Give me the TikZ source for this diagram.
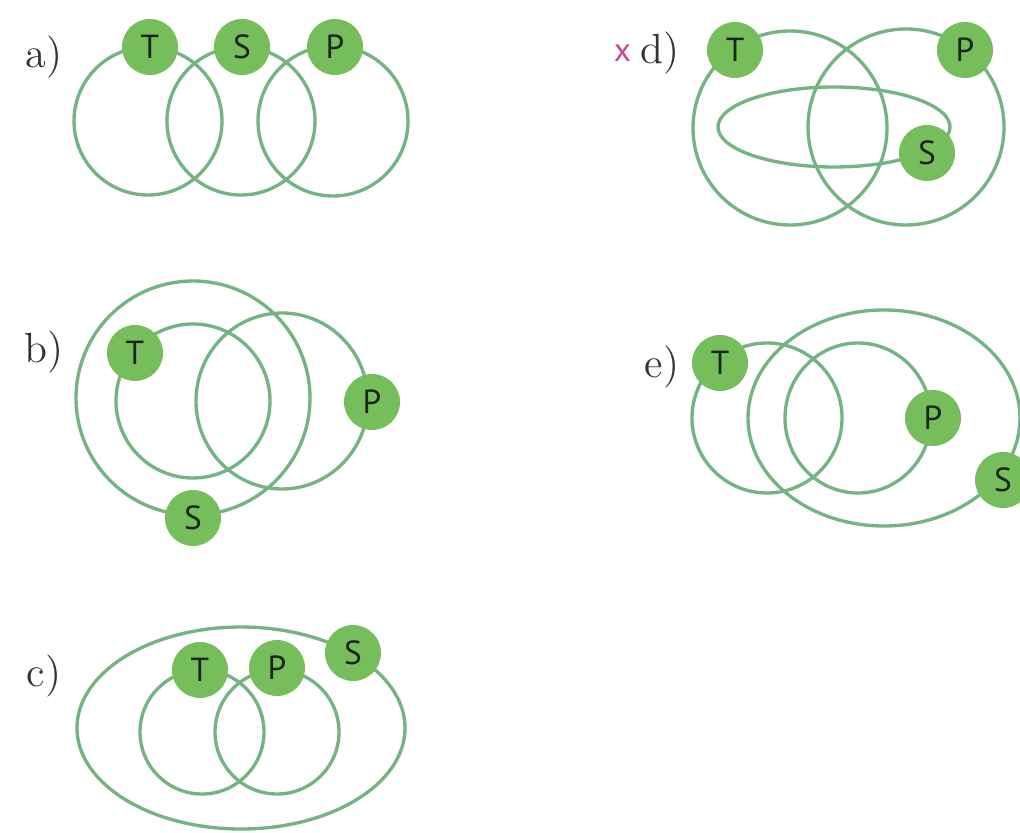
\documentclass[tikz,border=0pt]{standalone}
\usepackage{fontspec}
\setsansfont{PT Sans}
\usepackage{tikz}
\usetikzlibrary{positioning}
\definecolor{ringgreen}{RGB}{116,180,130}
\definecolor{dotgreen}{RGB}{118,190,92}
\definecolor{ink}{RGB}{28,36,28}
\definecolor{wrong}{RGB}{205,70,150}
\tikzset{
  ring/.style={draw=ringgreen,line width=0.95pt},
  elem/.style={circle,fill=dotgreen,minimum size=5.6mm,inner sep=0pt,
    font=\sffamily\fontsize{9.5}{11}\selectfont,text=ink},
  lbl/.style={font=\fontsize{12}{14}\selectfont,text=black!80,inner sep=0pt},
  cross/.style={font=\sffamily\fontsize{9.5}{10}\selectfont,text=wrong,inner sep=0pt},
}

\begin{document}
\begin{tikzpicture}
  \fill[white] (0,0) rectangle (10.2,-8.32);
  \clip (0,0) rectangle (10.2,-8.32);
  % a)
  \node[lbl] (la) at (0.44,-0.57) {a)};
  \draw[ring] (1.48,-1.21) circle (0.74);
  \draw[ring] (2.41,-1.21) circle (0.74);
  \draw[ring] (3.33,-1.21) circle (0.75);
  \node[elem] (aT) at (1.50,-0.47) {T};
  \node[elem] (aS) at (2.42,-0.47) {S};
  \node[elem] (aP) at (3.35,-0.47) {P};
  % b)
  \node[lbl] (lb) at (0.44,-3.52) {b)};
  \draw[ring] (1.93,-3.98) circle (1.17);
  \draw[ring] (1.93,-4.01) circle (0.77);
  \draw[ring] (2.82,-4.01) circle [x radius=0.86,y radius=0.88];
  \node[elem] (bT) at (1.35,-3.53) {T};
  \node[elem] (bP) at (3.72,-4.02) {P};
  \node[elem] (bS) at (1.93,-5.18) {S};
  % c)
  \node[lbl] (lc) at (0.44,-6.76) {c)};
  \draw[ring] (2.41,-7.28) ellipse [x radius=1.64,y radius=1.01];
  \draw[ring] (2.02,-7.32) circle (0.62);
  \draw[ring] (2.77,-7.32) circle (0.62);
  \node[elem] (cT) at (2.00,-6.70) {T};
  \node[elem] (cP) at (2.77,-6.68) {P};
  \node[elem] (cS) at (3.53,-6.53) {S};
  % d)
  \node[lbl] (ld) at (6.60,-0.53) {d)};
  \node[cross,left=0.8mm of ld] (xd) {x};
  \draw[ring] (7.90,-1.28) circle (0.97);
  \draw[ring] (9.06,-1.27) circle (0.98);
  \draw[ring] (8.34,-1.27) ellipse [x radius=1.16,y radius=0.40];
  \node[elem] (dT) at (7.35,-0.50) {T};
  \node[elem] (dP) at (9.65,-0.50) {P};
  \node[elem] (dS) at (9.27,-1.53) {S};
  % e)
  \node[lbl] (le) at (6.62,-3.67) {e)};
  \draw[ring] (7.67,-4.18) circle (0.75);
  \draw[ring] (8.58,-4.18) circle [x radius=0.73,y radius=0.75];
  \draw[ring] (8.84,-4.18) ellipse [x radius=1.36,y radius=1.08];
  \node[elem] (eT) at (7.20,-3.63) {T};
  \node[elem] (eP) at (9.33,-4.18) {P};
  \node[elem] (eS) at (10.03,-4.80) {S};
\end{tikzpicture}
\end{document}
